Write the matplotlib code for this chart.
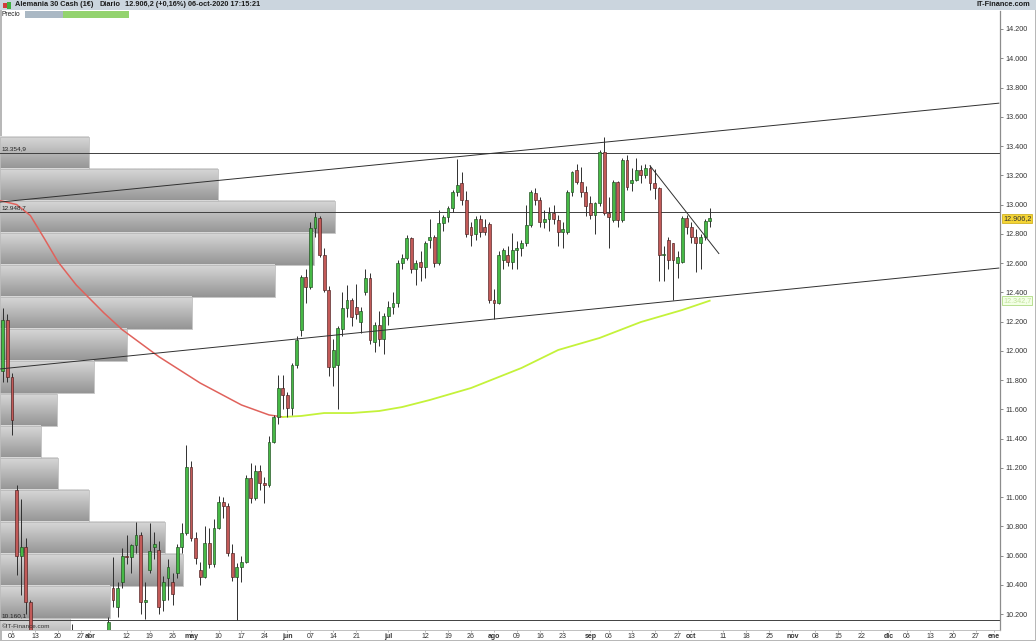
import numpy as np
import pandas as pd
import matplotlib
matplotlib.use("Agg")
import matplotlib.pyplot as plt
import matplotlib.transforms as mtrans
from matplotlib.colors import LinearSegmentedColormap
from matplotlib.patches import Rectangle

plt.rcParams['font.family'] = ['Liberation Sans', 'DejaVu Sans']

# daily candles (open, high, low, close), one list per month, 04-mar-2020 .. 06-oct-2020
mar = [(11860, 12290, 11790, 12210), (12210, 12250, 11790, 11820), (11820, 11850, 11425, 11530),
       (11050, 11080, 10470, 10600), (10600, 10990, 10330, 10660), (10660, 10720, 10200, 10280),
       (10280, 10300, 9100, 9200), (9400, 9990, 8950, 9230), (8900, 9300, 8580, 8740),
       (8700, 9100, 8470, 8940), (8900, 9050, 8260, 8440), (8400, 8800, 8250, 8610),
       (8700, 9200, 8600, 8930), (8800, 8950, 8260, 8740), (8900, 9720, 8870, 9700),
       (9750, 10130, 9500, 9870), (9750, 10050, 9650, 10000), (9800, 9950, 9560, 9630),
       (9530, 9830, 9400, 9815), (9900, 10080, 9820, 9935)]
abr = [(9700, 9790, 9430, 9545), (9480, 9650, 9320, 9570), (9580, 9640, 9400, 9525),
       (9800, 10180, 9770, 10150), (10380, 10590, 10250, 10300), (10250, 10420, 10180, 10380),
       (10420, 10650, 10380, 10600), (10600, 10740, 10540, 10590), (10590, 10680, 10480, 10670),
       (10670, 10830, 10620, 10740), (10740, 10760, 10200, 10280), (10280, 10420, 10170, 10300),
       (10500, 10820, 10480, 10630), (10660, 10760, 10580, 10680), (10640, 10700, 10200, 10250),
       (10300, 10460, 10220, 10420), (10450, 10580, 10300, 10520), (10420, 10480, 10260, 10340),
       (10480, 10680, 10450, 10660), (10660, 10820, 10620, 10755), (10755, 11356, 10740, 11206),
       (11206, 11250, 10700, 10720)]
may = [(10720, 10760, 10540, 10585), (10500, 10560, 10400, 10454), (10454, 10800, 10450, 10687),
       (10687, 10790, 10516, 10540), (10540, 10850, 10520, 10790), (10790, 11010, 10780, 10967),
       (10967, 11000, 10860, 10940), (10940, 10960, 10600, 10618), (10618, 10680, 10430, 10454),
       (10454, 10550, 10160, 10520), (10520, 10600, 10420, 10557), (10557, 11150, 10550, 11131),
       (11131, 11234, 10960, 10995), (10995, 11220, 10980, 11180), (11180, 11220, 11050, 11097),
       (11097, 11140, 10960, 11083), (11083, 11420, 11070, 11377), (11377, 11560, 11370, 11548),
       (11548, 11835, 11500, 11746), (11746, 11835, 11600, 11700), (11700, 11720, 11548, 11610)]
jun = [(11610, 11920, 11560, 11904), (11904, 12100, 11880, 12075), (12143, 12520, 12100, 12505),
       (12505, 12560, 12330, 12437), (12437, 12880, 12420, 12840), (12840, 12950, 12780, 12915),
       (12908, 12920, 12640, 12655), (12655, 12700, 12400, 12416), (12416, 12440, 11830, 11890),
       (11890, 12080, 11760, 12006), (11904, 12170, 11600, 12156), (12150, 12400, 12100, 12293),
       (12293, 12450, 12232, 12348), (12348, 12360, 12170, 12232), (12300, 12460, 12220, 12250),
       (12200, 12300, 12120, 12270), (12400, 12560, 12380, 12500), (12500, 12530, 12050, 12075),
       (12061, 12200, 11990, 12180), (12180, 12270, 12030, 12080), (12080, 12260, 11980, 12240),
       (12240, 12340, 12180, 12300)]
jul = [(12300, 12400, 12250, 12327), (12327, 12620, 12300, 12600), (12600, 12660, 12560, 12635),
       (12635, 12790, 12620, 12771), (12771, 12780, 12530, 12560), (12560, 12620, 12450, 12600),
       (12610, 12680, 12480, 12573), (12573, 12750, 12500, 12737), (12760, 12900, 12700, 12778),
       (12778, 12790, 12570, 12600), (12600, 12960, 12590, 12874), (12874, 12930, 12820, 12915),
       (12915, 12990, 12880, 12976), (12976, 13100, 12950, 13086), (13086, 13313, 13060, 13133),
       (13147, 13225, 13000, 13030), (13030, 13090, 12780, 12800), (12850, 12880, 12720, 12790),
       (12800, 12920, 12760, 12900), (12900, 12930, 12780, 12810), (12850, 12900, 12790, 12810),
       (12870, 12880, 12330, 12350), (12350, 12420, 12220, 12330)]
ago = [(12330, 12680, 12320, 12655), (12620, 12700, 12560, 12690), (12655, 12720, 12580, 12607),
       (12607, 12806, 12560, 12690), (12690, 12750, 12560, 12700), (12700, 12760, 12650, 12737),
       (12737, 13000, 12720, 12860), (12860, 13100, 12850, 13086), (13080, 13110, 13000, 13030),
       (13030, 13050, 12850, 12880), (12880, 12960, 12840, 12900), (12900, 12980, 12820, 12940),
       (12940, 13000, 12870, 12900), (12895, 12930, 12720, 12812), (12812, 12880, 12700, 12830),
       (12812, 13100, 12800, 13086), (13086, 13230, 13060, 13222), (13236, 13280, 13140, 13154),
       (13154, 13260, 13050, 13086), (13086, 13130, 12920, 12990), (13010, 13060, 12900, 12929)]
sep = [(12929, 13020, 12800, 13010), (13010, 13370, 12990, 13360), (13360, 13462, 12930, 12945),
       (12945, 13050, 12700, 12915), (12895, 13170, 12880, 13154), (13154, 13160, 12850, 12895),
       (12895, 13320, 12880, 13305), (13305, 13340, 13100, 13120), (13150, 13250, 13090, 13167),
       (13170, 13320, 13160, 13236), (13236, 13270, 13150, 13200), (13200, 13280, 13180, 13250),
       (13250, 13270, 13100, 13150), (13150, 13240, 13040, 13113), (13113, 13120, 12480, 12655),
       (12655, 12720, 12480, 12660), (12760, 12780, 12560, 12620), (12737, 12740, 12348, 12620),
       (12600, 12680, 12500, 12640), (12607, 12920, 12600, 12908), (12908, 12930, 12800, 12846),
       (12846, 12880, 12740, 12778)]
octu = [(12778, 12830, 12540, 12740), (12740, 12800, 12560, 12780), (12780, 12900, 12760, 12886),
        (12886, 12975, 12850, 12906.2)]

# moving average
ma_dates = ['2020-03-03', '2020-03-09', '2020-03-12', '2020-03-17', '2020-03-20', '2020-03-26',
            '2020-03-31', '2020-04-03', '2020-04-09', '2020-04-21', '2020-05-04', '2020-05-15',
            '2020-05-25', '2020-05-28', '2020-06-03', '2020-06-10', '2020-06-18', '2020-06-26',
            '2020-07-03', '2020-07-13', '2020-07-24', '2020-08-10', '2020-08-20', '2020-09-02',
            '2020-09-15', '2020-09-28', '2020-10-06']
ma_vals = [13030, 13000, 12925, 12770, 12610, 12450, 12355, 12260, 12145, 11960, 11780, 11630,
           11562, 11548, 11555, 11575, 11575, 11589, 11616, 11664, 11746, 11883, 12006, 12088,
           12197, 12279, 12342.7]
ma_turn = '2020-05-28'

# volume profile (top of each price bin, relative volume)
prof_top = [13462, 13243, 13024, 12804, 12585, 12366, 12147, 11928, 11708, 11489, 11270,
            11051, 10832, 10612, 10393, 10174]
prof_vol = [89, 218, 335, 314, 275, 192, 127, 94, 57, 41, 58, 89, 165, 183, 110, 70]
prof_step = 219.2

levels = [13354.9, 12948.7, 10160.1]
level_txt = ['13.354,9', '12.948,7', '10.160,1']

# trend lines (date, price)
chan_hi = [('2020-03-03', 13016), ('2021-01-01', 13693)]
chan_lo = [('2020-03-03', 11875), ('2021-01-01', 12566)]
down_line = [('2020-09-17', 13265), ('2020-10-08', 12665)]

tick_txt = ['06', '13', '20', '27', 'abr', '12', '19', '26', 'may', '10', '17', '24', 'jun',
            '07', '14', '21', 'jul', '12', '19', '26', 'ago', '09', '16', '23', 'sep', '06',
            '13', '20', '27', 'oct', '11', '18', '25', 'nov', '08', '15', '22', 'dic', '06',
            '13', '20', '27', 'ene']
tick_at = ['2020-03-06', '2020-03-13', '2020-03-20', '2020-03-27', '2020-03-31', '2020-04-10',
           '2020-04-17', '2020-04-24', '2020-04-30', '2020-05-08', '2020-05-15', '2020-05-22',
           '2020-05-29', '2020-06-05', '2020-06-12', '2020-06-19', '2020-06-30', '2020-07-10',
           '2020-07-17', '2020-07-24', '2020-07-31', '2020-08-07', '2020-08-14', '2020-08-21',
           '2020-08-31', '2020-09-04', '2020-09-11', '2020-09-18', '2020-09-25', '2020-09-30',
           '2020-10-09', '2020-10-16', '2020-10-23', '2020-10-30', '2020-11-06', '2020-11-13',
           '2020-11-20', '2020-11-30', '2020-12-04', '2020-12-11', '2020-12-18', '2020-12-25',
           '2020-12-31']


def fmt(v):
    return f"{v:,}".replace(',', '.')


days = pd.bdate_range('2020-03-02', '2021-01-01')
pos = lambda d: days.get_loc(pd.Timestamp(d))

ohlc = np.array(mar + abr + may + jun + jul + ago + sep + octu, dtype=float)
xi = days.get_indexer(pd.bdate_range('2020-03-04', '2020-10-06'))
o, h, l, c = ohlc.T
up = c >= o

fig = plt.figure(figsize=(10.36, 6.41), dpi=100)
rect = [0, 11 / 641, 1000 / 1036, 619 / 641]
xlim = (1.386, 219.25)
ylim = (10092, 14323)

# profile in its own axes, behind the price axes
axp = fig.add_axes(rect, zorder=0)
cmap = LinearSegmentedColormap.from_list('pv', ['#d8d8d8', '#959595'])
grad = np.linspace(0, 1, 32).reshape(-1, 1)
for top, v in zip(prof_top, prof_vol):
    axp.imshow(grad, extent=(0, v, top - prof_step, top), origin='upper', cmap=cmap,
               aspect='auto', interpolation='bilinear')
    axp.add_patch(Rectangle((0, top - prof_step), v, prof_step, fill=False,
                            ec='#bdbdbd', lw=0.6))
axp.set_xlim(0, 1000)
axp.set_ylim(ylim)
axp.axis('off')

ax = fig.add_axes(rect, zorder=1)
ax.patch.set_alpha(0)

for y, t in zip(levels, level_txt):
    ax.axhline(y, color='#404040', lw=0.7, zorder=2)
    ax.text(xlim[0] + 0.3, y + 12, t, fontsize=4.6, color='#222', va='bottom', zorder=6)

mi = np.array([pos(d) for d in ma_dates])
mv = np.array(ma_vals)
k = pos(ma_turn)
ax.plot(mi[mi <= k], mv[mi <= k], color='#e0625c', lw=1.1, zorder=2.5)
ax.plot(mi[mi >= k], mv[mi >= k], color='#c4f23a', lw=1.3, zorder=2.5)

for line in (chan_hi, chan_lo, down_line):
    ax.plot([pos(d) for d, _ in line], [p for _, p in line], color='#303030', lw=0.7, zorder=5)

ax.vlines(xi, l, h, color='#2f2f2f', lw=0.7, zorder=3)
ax.bar(xi[up], (c - o)[up], bottom=o[up], width=0.62, color='#46b946', edgecolor='#1d4a1d',
       lw=0.45, zorder=4)
ax.bar(xi[~up], (c - o)[~up], bottom=o[~up], width=0.62, color='#c25a58', edgecolor='#4a1d1d',
       lw=0.45, zorder=4)

ax.set_xlim(xlim)
ax.set_ylim(ylim)

yt = list(range(10200, 14201, 200))
ax.set_yticks(yt)
ax.set_yticklabels([fmt(v) for v in yt])
for lab, v in zip(ax.get_yticklabels(), yt):
    if v % 1000 == 0:
        lab.set_fontweight('bold')
ax.yaxis.tick_right()
ax.tick_params(axis='y', length=2.5, width=0.6, color='#777', labelsize=5.2,
               labelcolor='#333', pad=1.5)

ax.set_xticks([pos(d) for d in tick_at])
ax.set_xticklabels(tick_txt)
for lab in ax.get_xticklabels():
    if not lab.get_text().isdigit():
        lab.set_fontweight('bold')
ax.tick_params(axis='x', length=1.5, width=0.5, color='#999', labelsize=5,
               labelcolor='#333', pad=0.6)

for s in ('left', 'top'):
    ax.spines[s].set_visible(False)
ax.spines['right'].set_color('#8c8c8c')
ax.spines['right'].set_linewidth(0.9)
ax.spines['bottom'].set_color('#b5b5b5')
ax.spines['bottom'].set_linewidth(0.6)

# price tags on the scale
tr = mtrans.blended_transform_factory(ax.transAxes, ax.transData)
ax.text(1.003, c[-1], '12.906,2', transform=tr, fontsize=5.2, color='#333', va='center',
        ha='left', zorder=7, clip_on=False,
        bbox=dict(boxstyle='square,pad=0.15', fc='#f4d434', ec='#c9a80c', lw=0.5))
ax.text(1.003, mv[-1], '12.342,7', transform=tr, fontsize=5.2, color='#c2e39c', va='center',
        ha='left', zorder=7, clip_on=False,
        bbox=dict(boxstyle='square,pad=0.15', fc='#f3ffe6', ec='#9fd36c', lw=0.5))

# header band
fig.add_artist(Rectangle((0, 1 - 10 / 641), 1, 10 / 641, transform=fig.transFigure,
                         fc='#cbd5de', ec='none'))
hy = 1 - 5 / 641
for xp, t in [(15, 'Alemania 30 Cash (1€)'), (99, 'Diario'), (125, '12.906,2 (+0,16%)'),
              (188, '06-oct-2020 17:15:21')]:
    fig.text(xp / 1036, hy, t, fontsize=5.3, fontweight='bold', color='#1b1b1b', va='center')
fig.text(1030 / 1036, hy, 'IT-Finance.com', fontsize=5.3, fontweight='bold', color='#1b1b1b',
         va='center', ha='right')
fig.add_artist(Rectangle((3 / 1036, 1 - 8 / 641), 4 / 1036, 5 / 641, transform=fig.transFigure,
                         fc='#d23b3b', ec='none'))
fig.add_artist(Rectangle((7 / 1036, 1 - 9 / 641), 4 / 1036, 7 / 641, transform=fig.transFigure,
                         fc='#3fae3f', ec='none'))

# "Precio" legend row
fig.text(2 / 1036, 1 - 14.5 / 641, 'Precio', fontsize=4.8, color='#222', va='center')
fig.add_artist(Rectangle((25 / 1036, 1 - 17.5 / 641), 38 / 1036, 6 / 641,
                         transform=fig.transFigure, fc='#aab8c4', ec='none'))
fig.add_artist(Rectangle((63 / 1036, 1 - 17.5 / 641), 66 / 1036, 6 / 641,
                         transform=fig.transFigure, fc='#93d36e', ec='none'))

fig.text(2 / 1036, 1 - 626.5 / 641, '©IT-Finance.com', fontsize=4.6, color='#333', va='center')

fig.patch.set_edgecolor('#b8b8b8')
fig.patch.set_linewidth(1.0)

fig.savefig('out.png', dpi=100)
